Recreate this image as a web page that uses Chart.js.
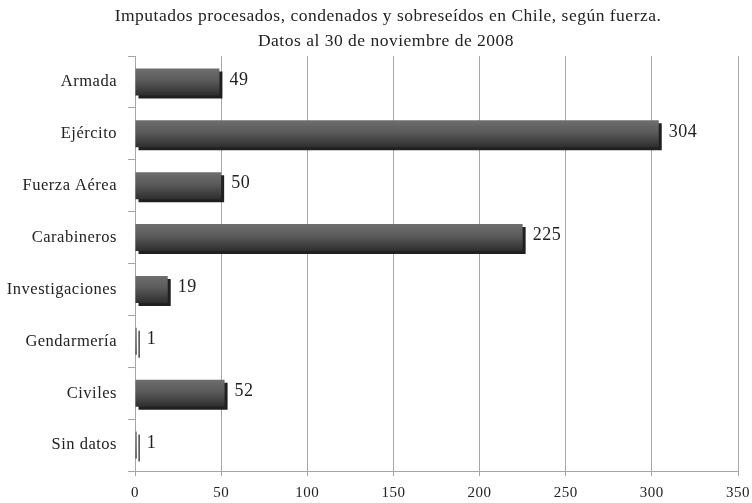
<!DOCTYPE html>
<html lang="es">
<head>
<meta charset="utf-8">
<title>Imputados según fuerza</title>
<script src="https://cdn.jsdelivr.net/npm/chart.js@4.4.1/dist/chart.umd.min.js"></script>
<style>
    html, body { margin: 0; padding: 0; background: #fff; }
    #chart { display: block; }
</style>
</head>
<body>
<canvas id="chart" width="752" height="503"></canvas>
<script>
// Datos del gráfico
const categorias = ['Armada', 'Ejército', 'Fuerza Aérea', 'Carabineros', 'Investigaciones', 'Gendarmería', 'Civiles', 'Sin datos'];
const imputados = [49, 304, 50, 225, 19, 1, 52, 1];
const ticksX = [0, 50, 100, 150, 200, 250, 300, 350];
const titulo = ['Imputados procesados, condenados y sobreseídos en Chile, según fuerza.', 'Datos al 30 de noviembre de 2008'];

const FUENTE = "'Liberation Serif', 'DejaVu Serif', serif";
const ESPACIADO = '0.5px';
const BAR_PCT = 0.52;

// Degradado vertical de cada barra (claro arriba, oscuro abajo)
function colorBarra(context) {
    const chart = context.chart;
    const y = chart.scales.y;
    if (!y || !chart.chartArea) return '#555';
    const centro = y.getPixelForValue(context.dataIndex);
    const alto = (y.height / categorias.length) * BAR_PCT;
    const g = chart.ctx.createLinearGradient(0, centro - alto / 2, 0, centro + alto / 2);
    g.addColorStop(0, '#6e6e6e');
    g.addColorStop(0.45, '#5a5a5a');
    g.addColorStop(1, '#2e2e2e');
    return g;
}

// Espaciado de letras para acercarse al ancho de la tipografía original
const espaciadoTexto = {
    id: 'espaciadoTexto',
    beforeInit(chart) { chart.ctx.letterSpacing = ESPACIADO; },
    beforeLayout(chart) { chart.ctx.letterSpacing = ESPACIADO; },
    beforeDraw(chart) { chart.ctx.letterSpacing = ESPACIADO; }
};

// Título en dos líneas, centrado como en el original
const tituloGrafico = {
    id: 'tituloGrafico',
    afterDraw(chart) {
        const ctx = chart.ctx;
        ctx.save();
        ctx.font = '17.5px ' + FUENTE;
        ctx.fillStyle = '#222';
        ctx.textAlign = 'center';
        ctx.textBaseline = 'middle';
        ctx.fillText(titulo[0], 388, 16);
        ctx.fillText(titulo[1], 386, 41);
        ctx.restore();
    }
};

// Sombra sólida desplazada detrás de las barras
const sombraBarras = {
    id: 'sombraBarras',
    beforeDatasetDraw(chart) {
        const ctx = chart.ctx;
        ctx.save();
        ctx.shadowColor = '#231f20';
        ctx.shadowOffsetX = 3;
        ctx.shadowOffsetY = 3;
        ctx.shadowBlur = 0;
    },
    afterDatasetDraw(chart) {
        chart.ctx.restore();
    }
};

// Etiquetas de valor a la derecha de cada barra
const etiquetasValor = {
    id: 'etiquetasValor',
    afterDatasetsDraw(chart) {
        const ctx = chart.ctx;
        const meta = chart.getDatasetMeta(0);
        ctx.save();
        ctx.font = '18px ' + FUENTE;
        ctx.fillStyle = '#222';
        ctx.textAlign = 'left';
        ctx.textBaseline = 'middle';
        meta.data.forEach((bar, i) => {
            ctx.fillText(String(imputados[i]), bar.x + 10, bar.y - 2);
        });
        ctx.restore();
    }
};

new Chart(document.getElementById('chart'), {
    type: 'bar',
    data: {
        labels: categorias,
        datasets: [{
            data: imputados,
            backgroundColor: colorBarra,
            borderWidth: 0,
            barPercentage: BAR_PCT,
            categoryPercentage: 1
        }]
    },
    options: {
        indexAxis: 'y',
        responsive: false,
        animation: false,
        layout: { padding: { left: 0, right: 14, top: 56, bottom: 0 } },
        plugins: {
            legend: { display: false },
            tooltip: { enabled: false },
            title: { display: false }
        },
        scales: {
            x: {
                min: 0,
                max: 350,
                afterBuildTicks(scale) {
                    scale.ticks = ticksX.map(v => ({ value: v }));
                },
                grid: {
                    color: '#a6a6a6',
                    lineWidth: 1,
                    tickLength: 5,
                    drawTicks: true
                },
                border: { color: '#a6a6a6' },
                ticks: {
                    color: '#222',
                    padding: 8,
                    maxRotation: 0,
                    font: { family: FUENTE, size: 15 }
                },
                afterFit(scale) {
                    scale.height = 32;
                    scale.paddingLeft = 0;
                    scale.paddingRight = 0;
                }
            },
            y: {
                grid: {
                    offset: true,
                    drawOnChartArea: false,
                    color: '#a6a6a6',
                    tickLength: 7
                },
                border: { color: '#a6a6a6' },
                ticks: {
                    color: '#222',
                    padding: 11,
                    font: { family: FUENTE, size: 16.5 }
                },
                afterFit(scale) { scale.width = 135; }
            }
        }
    },
    plugins: [espaciadoTexto, sombraBarras, etiquetasValor, tituloGrafico]
});
</script>
</body>
</html>
